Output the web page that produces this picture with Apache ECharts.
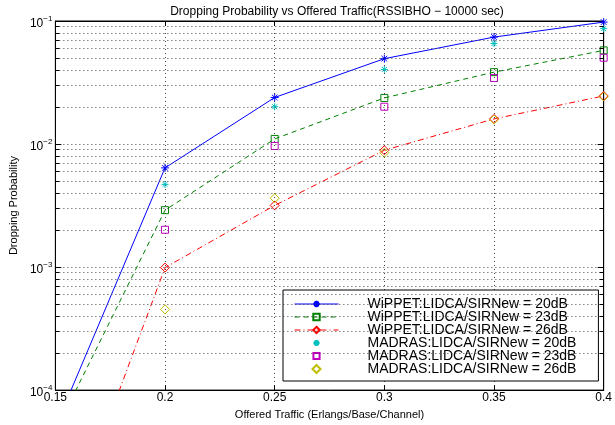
<!DOCTYPE html>
<html><head><meta charset="utf-8">
<script src="https://cdn.jsdelivr.net/npm/echarts@6/dist/echarts.min.js"></script>
<style>html,body{margin:0;padding:0;background:#fff}#c{width:615px;height:425px}</style>
</head><body><div id="c"></div>
<script>
const xTraffic = [0.15, 0.2, 0.25, 0.3, 0.35, 0.4];
const xMadras = [0.2, 0.25, 0.3, 0.35, 0.4];
const wippet20 = [5e-5, 0.0064, 0.0239, 0.0494, 0.074, 0.098];
const wippet23 = [4.6e-5, 0.0029, 0.011, 0.0237, 0.0384, 0.0577];
const wippet26 = [4e-6, 0.00099, 0.00317, 0.0089, 0.016, 0.0246];
const madras20 = [0.0047, 0.0201, 0.0404, 0.0656, 0.0867];
const madras23 = [0.00201, 0.00964, 0.0201, 0.0344, 0.0503];
const madras26 = [0.000453, 0.00363, 0.0085, 0.0158, 0.0243];
const names = ['WiPPET:LIDCA/SIRNew = 20dB','WiPPET:LIDCA/SIRNew = 23dB','WiPPET:LIDCA/SIRNew = 26dB',
  'MADRAS:LIDCA/SIRNew = 20dB','MADRAS:LIDCA/SIRNew = 23dB','MADRAS:LIDCA/SIRNew = 26dB'];
const xMin = 0.15, xMax = 0.4;
const minorTicks = [];
for (let e = -4; e < -1; e++) for (let m = 2; m <= 9; m++) minorTicks.push(m * Math.pow(10, e));

const FONT = 'Liberation Sans';
const star = 'path://M0,-10L0,10M-10,0L10,0M-7,-7L7,7M-7,7L7,-7';
const square = 'path://M-10,-10L10,-10L10,10L-10,10Z';
const diamond = 'path://M0,-10L10,0L0,10L-10,0Z';
// legend icons with a padded bounding box (zero-length end segments) so they render smaller
const padBox = ' M-13,-13L-13,-13 M13,13L13,13';
const pair = (xs, ys) => xs.map((x, i) => [x, ys[i]]);

function lineSeries(name, data, color, type, sym, size) {
  return {
    name, type: 'line', data, clip: true, symbol: sym, symbolSize: size, showAllSymbol: true,
    lineStyle: { color, width: 1, type },
    itemStyle: { color: 'rgba(0,0,0,0)', borderColor: color, borderWidth: 1 },
    emphasis: { disabled: true }, z: 3
  };
}
function scatterSeries(name, data, color, sym, size) {
  return {
    name, type: 'scatter', data, symbol: sym, symbolSize: size,
    itemStyle: { color: 'rgba(0,0,0,0)', borderColor: color, borderWidth: 1, opacity: 1 },
    emphasis: { disabled: true }, z: 3
  };
}
const dotted = { color: '#444', width: 1, type: [1, 3] };
const tickLen = (xMax - xMin) * 4 / 555;
const minorTickLines = [];
minorTicks.forEach(v => {
  minorTickLines.push([{ coord: [xMin, v] }, { coord: [xMin + tickLen, v] }]);
  minorTickLines.push([{ coord: [xMax - tickLen, v] }, { coord: [xMax, v] }]);
});

const chart = echarts.init(document.getElementById('c'), null, { renderer: 'canvas' });
chart.setOption({
  animation: false,
  backgroundColor: '#fff',
  title: { text: 'Dropping Probability vs Offered Traffic(RSSIBHO − 10000 sec)', left: 332, top: 1, textAlign: 'center',
    textStyle: { fontFamily: FONT, fontSize: 12, fontWeight: 'normal', color: '#000' } },
  grid: { left: 52, right: 8, top: 21, bottom: 31, show: true, borderColor: '#000', borderWidth: 1, backgroundColor: 'transparent' },
  xAxis: [{
    type: 'value', min: xMin, max: xMax, interval: 0.05,
    name: 'Offered Traffic (Erlangs/Base/Channel)', nameLocation: 'middle', nameGap: 13,
    nameTextStyle: { fontFamily: FONT, fontSize: 11, color: '#000' },
    axisLine: { show: true, lineStyle: { color: '#000' } },
    axisTick: { show: true, inside: true, length: 5, lineStyle: { color: '#000' } },
    axisLabel: { fontFamily: FONT, fontSize: 12, color: '#000', margin: 2, formatter: v => String(+v.toFixed(2)) },
    splitLine: { show: true, lineStyle: dotted }
  }, {
    type: 'value', min: xMin, max: xMax, interval: 0.05, position: 'top',
    axisLine: { show: true, lineStyle: { color: '#000' } },
    axisTick: { show: true, inside: true, length: 5, lineStyle: { color: '#000' } },
    axisLabel: { show: false }, splitLine: { show: false }
  }],
  yAxis: [{
    type: 'log', logBase: 10, min: 1e-4, max: 1e-1,
    name: 'Dropping Probability', nameLocation: 'middle', nameGap: 28,
    nameTextStyle: { fontFamily: FONT, fontSize: 11, color: '#000' },
    axisLine: { show: true, lineStyle: { color: '#000' } },
    axisTick: { show: true, inside: true, length: 6, lineStyle: { color: '#000' } },
    axisLabel: {
      margin: 3, color: '#000',
      formatter: v => '{a|10}{b|−' + Math.round(-Math.log10(v)) + '}',
      rich: { a: { fontFamily: FONT, fontSize: 12, color: '#000', padding: [6, 0, 0, 0] },
              b: { fontFamily: FONT, fontSize: 8, color: '#000', padding: [0, 0, 4, 0] } }
    },
    splitLine: { show: true, lineStyle: dotted }
  }, {
    type: 'log', logBase: 10, min: 1e-4, max: 1e-1, position: 'right',
    axisLine: { show: true, lineStyle: { color: '#000' } },
    axisTick: { show: true, inside: true, length: 6, lineStyle: { color: '#000' } },
    axisLabel: { show: false }, splitLine: { show: false }
  }],
  legend: {
    orient: 'vertical', left: 283, top: 290,
    backgroundColor: '#fff', borderColor: '#000', borderWidth: 1,
    padding: [7, 22, 5, 11], itemWidth: 44, itemHeight: 8, itemGap: -1,
    lineStyle: { width: 1 },
    textStyle: { fontFamily: FONT, fontSize: 14, color: '#000', lineHeight: 13.3, padding: [0, 0, 0, 24] },
    data: [
      names[0], names[1], names[2],
      { name: names[3], icon: star + padBox },
      { name: names[4], icon: square + padBox },
      names[5]
    ]
  },
  series: [
    Object.assign(lineSeries(names[0], pair(xTraffic, wippet20), '#0000ff', 'solid', star, 8), {
      markLine: { silent: true, symbol: 'none', label: { show: false }, animation: false, precision: 12,
        lineStyle: dotted, emphasis: { disabled: true }, data: minorTicks.map(v => ({ yAxis: v })) }, z: 1 }),
    Object.assign(lineSeries(names[1], pair(xTraffic, wippet23), '#008000', [5, 4], square, 7), {
      markLine: { silent: true, symbol: 'none', label: { show: false }, animation: false, precision: 12,
        lineStyle: { color: '#000', width: 1, type: 'solid' }, emphasis: { disabled: true }, data: minorTickLines } }),
    lineSeries(names[2], pair(xTraffic, wippet26), '#ff0000', [6, 3, 1, 3], diamond, 9),
    scatterSeries(names[3], pair(xMadras, madras20), '#00bfbf', star, 7),
    scatterSeries(names[4], pair(xMadras, madras23), '#bf00bf', square, 7),
    scatterSeries(names[5], pair(xMadras, madras26), '#bfbf00', diamond, 9)
  ]
});
</script></body></html>
